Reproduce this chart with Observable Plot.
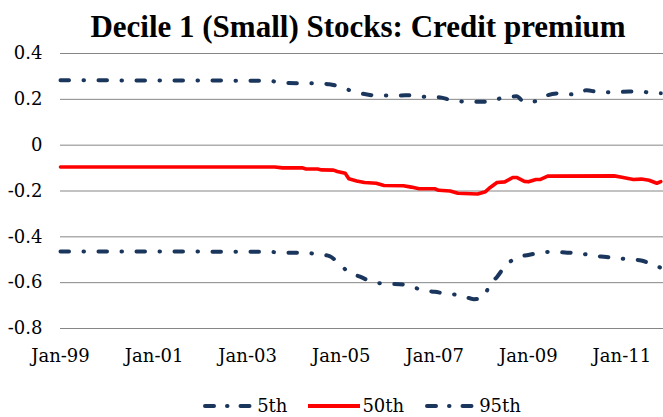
<!DOCTYPE html>
<html>
<head>
<meta charset="utf-8">
<script src="https://cdn.jsdelivr.net/npm/d3@7"></script>
<script src="https://cdn.jsdelivr.net/npm/@observablehq/plot@0.6"></script>
<style>
  html, body { margin: 0; padding: 0; background: #fff; }
  #wrap { position: relative; width: 663px; height: 417px; overflow: hidden; font-family: "DejaVu Serif", serif; }
  #title { position: absolute; left: 0; width: 716px; top: 11px; line-height: 31px; text-align: center; font-size: 31px; font-weight: bold; color: #000; white-space: nowrap; font-family: "Liberation Serif", serif; }
  #chart { position: absolute; left: 0; top: 0; }
  #chart svg text { font-family: "DejaVu Serif", serif !important; fill: #000; }
  #legend { position: absolute; left: 60px; width: 603px; top: 395px; display: flex; justify-content: center; align-items: center; font-size: 18px; color: #000; font-family: "DejaVu Serif", serif; }
  .item { display: flex; align-items: center; margin: 0 10px; }
  .item svg { margin-right: 1px; }
</style>
</head>
<body>
<div id="wrap">
  <div id="title">Decile 1 (Small) Stocks: Credit premium</div>
  <div id="chart"></div>
  <div id="legend"></div>
</div>
<script>
// ---- data ----
const seriesNames = ["5th", "50th", "95th"];

const p95Dates = ["1999-01","2003-06","2003-11","2004-06","2004-10","2005-01","2005-04","2005-07","2005-10","2006-04","2006-07","2006-11","2007-02","2007-05","2007-09","2008-03","2008-06","2008-10","2008-12","2009-03","2009-06","2009-09","2010-01","2010-04","2010-07","2010-11","2011-03","2011-06","2011-09","2011-11"];
const p95Values = [0.283,0.281,0.271,0.27,0.266,0.253,0.235,0.223,0.217,0.217,0.218,0.21,0.209,0.198,0.19,0.19,0.205,0.213,0.188,0.192,0.218,0.226,0.221,0.24,0.232,0.231,0.234,0.234,0.227,0.227];

const p50Dates = ["1999-01","2003-08","2003-10","2004-03","2004-04","2004-07","2004-08","2004-11","2004-12","2005-02","2005-03","2005-05","2005-07","2005-10","2005-12","2006-05","2006-07","2006-09","2007-01","2007-02","2007-05","2007-07","2007-12","2008-02","2008-03","2008-05","2008-07","2008-09","2008-10","2008-12","2009-01","2009-03","2009-04","2009-06","2010-11","2011-01","2011-04","2011-06","2011-08","2011-10","2011-11"];
const p50Values = [-0.095,-0.095,-0.099,-0.099,-0.104,-0.104,-0.108,-0.109,-0.115,-0.123,-0.147,-0.156,-0.163,-0.166,-0.176,-0.177,-0.183,-0.19,-0.19,-0.197,-0.2,-0.21,-0.213,-0.203,-0.188,-0.163,-0.16,-0.141,-0.141,-0.158,-0.16,-0.15,-0.15,-0.135,-0.134,-0.14,-0.15,-0.148,-0.153,-0.166,-0.159];

const p5Dates = ["1999-01","2003-06","2003-10","2004-03","2004-07","2004-10","2004-12","2005-03","2005-06","2005-09","2005-12","2006-05","2006-07","2006-10","2007-01","2007-04","2007-08","2007-11","2008-01","2008-02","2008-03","2008-05","2008-07","2008-10","2009-01","2009-04","2009-07","2009-11","2010-02","2010-05","2010-09","2011-02","2011-06","2011-08","2011-11"];
const p5Values = [-0.464,-0.465,-0.469,-0.469,-0.476,-0.484,-0.51,-0.554,-0.575,-0.597,-0.604,-0.608,-0.616,-0.634,-0.64,-0.648,-0.656,-0.672,-0.668,-0.65,-0.612,-0.575,-0.53,-0.491,-0.479,-0.47,-0.465,-0.469,-0.471,-0.481,-0.488,-0.497,-0.503,-0.515,-0.535];

const yTicks = [-0.8, -0.6, -0.4, -0.2, 0, 0.2, 0.4];
const xTickLabels = ["Jan-99","Jan-01","Jan-03","Jan-05","Jan-07","Jan-09","Jan-11"];

// ---- build tables ----
const parse = d3.utcParse("%Y-%m");
const toRows = (dates, values, name) => dates.map((d, i) => ({date: parse(d), value: values[i], series: name}));
const rows5 = toRows(p5Dates, p5Values, "5th");
const rows50 = toRows(p50Dates, p50Values, "50th");
const rows95 = toRows(p95Dates, p95Values, "95th");
const xTicks = xTickLabels.map(s => d3.utcParse("%b-%y")(s));

const navy = "#1b365d";
const red = "#ff0000";
const dash = "8.5,14.5,0.5,14.5";
const serif = "'DejaVu Serif', serif";

const chart = Plot.plot({
  width: 663,
  height: 417,
  marginLeft: 60,
  marginRight: 0,
  marginTop: 53,
  marginBottom: 89,
  style: {fontFamily: serif, fontSize: "18px", color: "#000", background: "transparent"},
  x: {type: "utc", domain: [new Date(Date.UTC(1999,0,1)), new Date(Date.UTC(2011,10,22))]},
  y: {domain: [-0.8, 0.4]},
  marks: [
    Plot.ruleY(yTicks, {stroke: "#868686", strokeWidth: 1}),
    Plot.axisY({ticks: yTicks, tickSize: 0, tickPadding: 18, tickFormat: d => d === 0 ? "0" : d.toFixed(1), label: null, fontSize: 18, fontFamily: serif}),
    Plot.axisX({ticks: xTicks, tickSize: 0, tickPadding: 21, tickFormat: d3.utcFormat("%b-%y"), label: null, fontSize: 18, fontFamily: serif}),
    Plot.line(rows95, {x: "date", y: "value", stroke: navy, strokeWidth: 4, strokeDasharray: dash, strokeLinecap: "round", curve: "monotone-x"}),
    Plot.line(rows5, {x: "date", y: "value", stroke: navy, strokeWidth: 4, strokeDasharray: dash, strokeLinecap: "round", curve: "monotone-x"}),
    Plot.line(rows50, {x: "date", y: "value", stroke: red, strokeWidth: 3.6, strokeLinejoin: "round"})
  ]
});
document.getElementById("chart").appendChild(chart);

// ---- legend ----
const legendStyles = {"5th": {stroke: navy, dash}, "50th": {stroke: red, dash: null}, "95th": {stroke: navy, dash}};
const legend = document.getElementById("legend");
for (const name of seriesNames) {
  const st = legendStyles[name];
  const item = document.createElement("div");
  item.className = "item";
  const ns = "http://www.w3.org/2000/svg";
  const svg = document.createElementNS(ns, "svg");
  svg.setAttribute("width", 54); svg.setAttribute("height", 12);
  const ln = document.createElementNS(ns, "line");
  ln.setAttribute("x1", st.dash ? 3 : 1); ln.setAttribute("x2", st.dash ? 51 : 53);
  ln.setAttribute("y1", 6); ln.setAttribute("y2", 6);
  ln.setAttribute("stroke", st.stroke); ln.setAttribute("stroke-width", 4);
  if (st.dash) { ln.setAttribute("stroke-dasharray", "9,13,0.5,13"); ln.setAttribute("stroke-linecap", "round"); }
  svg.appendChild(ln);
  const label = document.createElement("span");
  label.textContent = name;
  item.appendChild(svg); item.appendChild(label);
  legend.appendChild(item);
}
</script>
</body>
</html>
